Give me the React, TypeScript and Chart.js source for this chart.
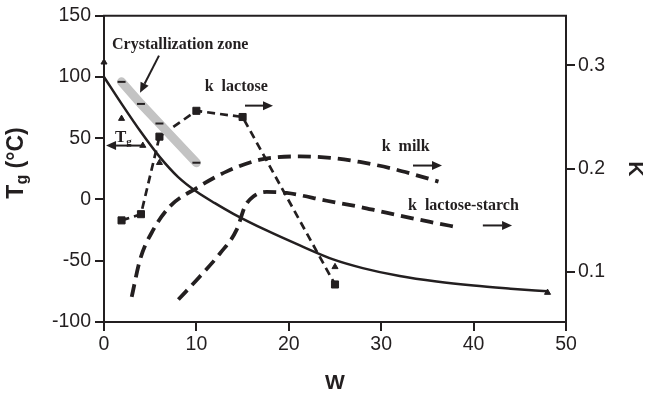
import React, { useEffect, useRef } from 'react';
import { Chart, registerables } from 'chart.js';

Chart.register(...registerables);

// Glass transition curve (°C) vs water content W
const tgW = [0, 2, 4, 6, 8, 10, 12, 14, 17.6, 21.2, 24.8, 28, 32, 36, 40, 44, 48];
const tgValues = [100, 77, 55, 35, 18.5, 6.5, -3, -11.7, -25.3, -37.5, -48.9, -56, -62.5, -67, -70.3, -72.8, -75];

// Experimental Tg points (triangles)
const tgDataW = [0, 1.9, 4.2, 6, 25, 48];
const tgDataValues = [112, 66, 44, 30, -55, -76];

// Crystallization zone (°C)
const crystW = [1.9, 4, 6, 10];
const crystValues = [96, 78, 62, 30];

// k lactose (right axis)
const kLactoseW = [1.9, 4, 6, 10, 15, 25];
const kLactoseValues = [0.150, 0.156, 0.231, 0.256, 0.250, 0.088];

// k milk (right axis)
const kMilkW = [3, 3.9, 5.34, 7.14, 10.03, 13.3, 16.9, 21.2, 24.5, 27.7, 31, 33.5, 36.2];
const kMilkValues = [0.076, 0.112, 0.141, 0.1636, 0.1813, 0.1974, 0.2087, 0.2119, 0.2105, 0.2065, 0.2005, 0.1945, 0.1875];

// k lactose-starch (right axis)
const kLsW = [8.05, 10.4, 12.55, 14.36, 15.26, 16.16, 17.6, 19.77, 24.1, 27.7, 30, 35.3, 38.5];
const kLsValues = [0.0734, 0.096, 0.118, 0.141, 0.1636, 0.1732, 0.1775, 0.1765, 0.169, 0.163, 0.1585, 0.1485, 0.143];

const kTicks = [0.1, 0.2, 0.3];

const INK = '#231f20';
const pts = (xs: number[], ys: number[]) => xs.map((x, i) => ({ x, y: ys[i] }));

function arrow(ctx: CanvasRenderingContext2D, x1: number, y1: number, x2: number, y2: number) {
  const ang = Math.atan2(y2 - y1, x2 - x1);
  const L = 10, H = 4.5;
  const bx = x2 - L * Math.cos(ang), by = y2 - L * Math.sin(ang);
  ctx.beginPath();
  ctx.moveTo(x1, y1);
  ctx.lineTo(bx, by);
  ctx.stroke();
  ctx.beginPath();
  ctx.moveTo(x2, y2);
  ctx.lineTo(bx + H * Math.sin(ang), by - H * Math.cos(ang));
  ctx.lineTo(bx - H * Math.sin(ang), by + H * Math.cos(ang));
  ctx.closePath();
  ctx.fill();
}

const decor = {
  id: 'decor',
  afterDraw(chart: any) {
    const { ctx, chartArea: a, scales } = chart;
    const X = (w: number) => scales.x.getPixelForValue(w);
    const Y = (t: number) => scales.y.getPixelForValue(t);
    ctx.save();
    ctx.strokeStyle = INK;
    ctx.fillStyle = INK;
    ctx.lineWidth = 2;
    // top frame line
    ctx.beginPath();
    ctx.moveTo(a.left - 1, a.top);
    ctx.lineTo(a.right + 1, a.top);
    ctx.stroke();

    // annotations
    const serif = (s: number) => `bold ${s}px "Liberation Serif", "Times New Roman", serif`;
    ctx.font = serif(16);
    ctx.textBaseline = 'middle';
    ctx.textAlign = 'left';
    ctx.fillText('Crystallization zone', X(0.87), Y(126.3));
    ctx.fillText('k  lactose', X(10.9), Y(92.1));
    ctx.fillText('k  milk', X(30.05), Y(43.2));
    ctx.fillText('k  lactose-starch', X(32.9), Y(-5.5));

    // Tg label with subscript
    ctx.textBaseline = 'alphabetic';
    ctx.font = serif(17);
    const tx = X(1.19), ty = Y(46.7);
    ctx.fillText('T', tx, ty);
    const tw = ctx.measureText('T').width;
    ctx.font = serif(11);
    ctx.fillText('g', tx + tw, ty + 3);

    ctx.lineWidth = 2;
    arrow(ctx, X(5.95), Y(117.4), X(3.9), Y(87.2));
    arrow(ctx, X(15.26), Y(76.6), X(18.29), Y(76.6));
    arrow(ctx, X(4.22), Y(44), X(0.22), Y(44));
    arrow(ctx, X(33.44), Y(27.7), X(36.58), Y(27.7));
    arrow(ctx, X(41.0), Y(-21.2), X(44.16), Y(-21.2));

    // axis titles
    const sans = (s: number) => `bold ${s}px "Liberation Sans", Arial, sans-serif`;
    ctx.textBaseline = 'middle';
    ctx.textAlign = 'center';
    ctx.font = sans(21);
    ctx.fillText('W', (a.left + a.right) / 2, 383);

    // right title K
    ctx.save();
    ctx.translate(635, (a.top + a.bottom) / 2);
    ctx.rotate(Math.PI / 2);
    ctx.fillText('K', 0, 0);
    ctx.restore();

    // left title Tg (°C)
    ctx.save();
    ctx.translate(17, 163);
    ctx.rotate(-Math.PI / 2);
    ctx.textAlign = 'left';
    ctx.textBaseline = 'middle';
    const big = sans(23), small = sans(16);
    ctx.font = big;
    const w1 = ctx.measureText('T').width;
    const w3 = ctx.measureText(' (°C)').width;
    ctx.font = small;
    const w2 = ctx.measureText('g').width;
    const total = w1 + w2 + w3;
    let cx = -total / 2;
    ctx.font = big;
    ctx.fillText('T', cx, 0);
    cx += w1;
    ctx.font = small;
    ctx.fillText('g', cx, 6);
    cx += w2;
    ctx.font = big;
    ctx.fillText(' (°C)', cx, 0);
    ctx.restore();

    ctx.restore();
  },
};

export default function App() {
  const ref = useRef<HTMLCanvasElement>(null);
  useEffect(() => {
    const canvas = ref.current!;
    const tickFont = { family: '"Liberation Sans", Arial, sans-serif', size: 19.5 };
    const grid = {
      drawOnChartArea: false,
      drawTicks: true,
      tickLength: 9,
      color: INK,
      tickColor: INK,
      lineWidth: 2,
    };
    const border = { display: true, color: INK, width: 2 };
    const chart = new Chart(canvas, {
      type: 'line',
      data: {
        datasets: [
          {
            label: 'Crystallization zone',
            data: pts(crystW, crystValues),
            yAxisID: 'y',
            borderColor: '#c3c3c3',
            borderWidth: 9,
            borderCapStyle: 'round',
            pointStyle: 'line',
            pointRadius: 4,
            pointBorderColor: INK,
            pointBorderWidth: 2,
            pointBackgroundColor: INK,
            tension: 0,
            clip: false,
          },
          {
            label: 'Tg',
            data: pts(tgW, tgValues),
            yAxisID: 'y',
            borderColor: INK,
            borderWidth: 2.5,
            pointRadius: 0,
            cubicInterpolationMode: 'monotone',
            clip: false,
          },
          {
            label: 'Tg data',
            data: pts(tgDataW, tgDataValues),
            yAxisID: 'y',
            showLine: false,
            pointStyle: 'triangle',
            pointRadius: 3.5,
            pointBackgroundColor: INK,
            pointBorderColor: INK,
            pointBorderWidth: 1,
            clip: false,
          },
          {
            label: 'k lactose',
            data: pts(kLactoseW, kLactoseValues),
            yAxisID: 'y1',
            borderColor: INK,
            borderWidth: 2.7,
            borderDash: [8, 5],
            tension: 0,
            pointStyle: 'rect',
            pointRadius: 5,
            pointBackgroundColor: INK,
            pointBorderColor: INK,
            pointBorderWidth: 1,
            clip: false,
          },
          {
            label: 'k milk',
            data: pts(kMilkW, kMilkValues),
            yAxisID: 'y1',
            borderColor: INK,
            borderWidth: 3.8,
            borderDash: [13, 7],
            pointRadius: 0,
            cubicInterpolationMode: 'monotone',
            clip: false,
          },
          {
            label: 'k lactose-starch',
            data: pts(kLsW, kLsValues),
            yAxisID: 'y1',
            borderColor: INK,
            borderWidth: 3.8,
            borderDash: [13, 7],
            pointRadius: 0,
            cubicInterpolationMode: 'monotone',
            clip: false,
          },
        ],
      },
      options: {
        responsive: false,
        maintainAspectRatio: false,
        animation: false,
        events: [],
        layout: { padding: { top: 15, left: 0, right: 0, bottom: 0 } },
        plugins: { legend: { display: false }, tooltip: { enabled: false } },
        scales: {
          x: {
            type: 'linear',
            position: 'bottom',
            min: 0,
            max: 50,
            ticks: { stepSize: 10, color: INK, font: tickFont, padding: 2, maxRotation: 0 },
            grid,
            border,
            afterFit: (s: any) => { s.height = 76; },
          },
          y: {
            type: 'linear',
            position: 'left',
            min: -100,
            max: 150,
            ticks: { stepSize: 50, color: INK, font: tickFont, padding: 4 },
            grid,
            border,
            afterFit: (s: any) => { s.width = 104; },
          },
          y1: {
            type: 'linear',
            position: 'right',
            min: 0.0517,
            max: 0.348,
            afterBuildTicks: (s: any) => { s.ticks = kTicks.map((v) => ({ value: v })); },
            ticks: { color: INK, font: tickFont, padding: 3, callback: (v: any) => Number(v).toFixed(1) },
            grid,
            border,
            afterFit: (s: any) => { s.width = 79; },
          },
        },
      } as any,
      plugins: [decor],
    } as any);
    return () => chart.destroy();
  }, []);
  return (
    <div style={{ position: 'fixed', left: 0, top: 0, width: 645, height: 398, background: '#fff' }}>
      <canvas ref={ref} width={645} height={398} style={{ display: 'block' }} />
    </div>
  );
}
